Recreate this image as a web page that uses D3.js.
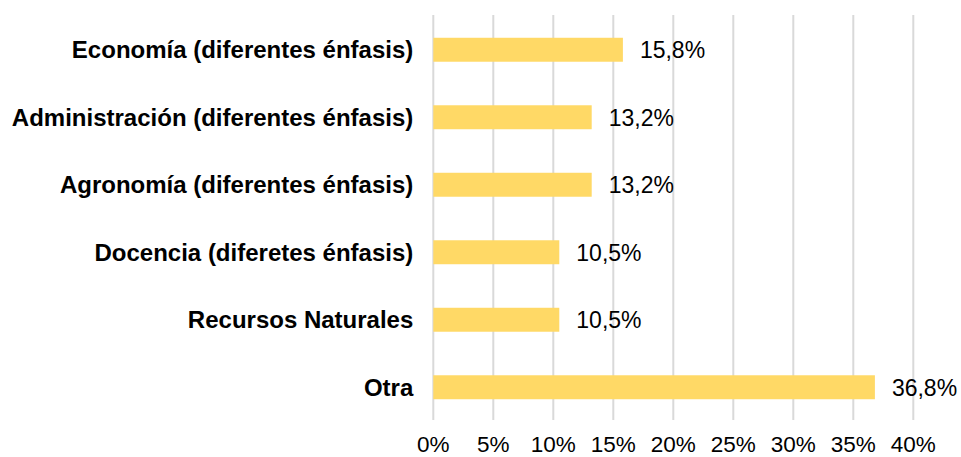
<!DOCTYPE html>
<html><head><meta charset="utf-8">
<script src="https://cdn.jsdelivr.net/npm/d3@7"></script>
<style>html,body{margin:0;padding:0;background:#fff;}svg{display:block;}</style>
</head><body>
<svg id="chart" width="961" height="457"></svg>
<script>
const categories = ["Economía (diferentes énfasis)","Administración (diferentes énfasis)","Agronomía (diferentes énfasis)","Docencia (diferetes énfasis)","Recursos Naturales","Otra"];
const values = [15.8,13.2,13.2,10.5,10.5,36.8];
const valueLabels = ["15,8%","13,2%","13,2%","10,5%","10,5%","36,8%"];
const tickValues = [0,5,10,15,20,25,30,35,40];
const tickLabels = ["0%","5%","10%","15%","20%","25%","30%","35%","40%"];

(function(){
const svg = d3.select("#chart");
const mLeft = 433.3, mRight = 913.3, mTop = 15, mBottom = 420;
const x = d3.scaleLinear().domain([0,40]).range([mLeft,mRight]);
const y = d3.scaleBand().domain(categories).range([mTop+1,mBottom+1]).paddingInner(0.645).paddingOuter(0.3225);

const font = "'Liberation Sans', Arial, sans-serif";

svg.append("g").selectAll("line").data(tickValues).join("line")
  .attr("x1",d=>x(d)).attr("x2",d=>x(d)).attr("y1",mTop).attr("y2",mBottom)
  .attr("stroke","#d9d9d9").attr("stroke-width",2);

svg.append("g").selectAll("rect").data(categories).join("rect")
  .attr("x",x(0)).attr("y",d=>y(d)).attr("height",y.bandwidth())
  .attr("width",(d,i)=>x(values[i])-x(0)).attr("fill","#FFD966");

svg.append("g").selectAll("text").data(categories).join("text")
  .attr("x",(d,i)=>x(values[i])+17).attr("y",d=>y(d)+y.bandwidth()/2)
  .attr("dy","0.36em").attr("font-family",font).attr("font-size",23).attr("fill","#000")
  .text((d,i)=>valueLabels[i]);

svg.append("g").selectAll("text").data(categories).join("text")
  .attr("x",mLeft-20).attr("y",d=>y(d)+y.bandwidth()/2)
  .attr("dy","0.36em").attr("text-anchor","end").attr("font-family",font)
  .attr("font-size",24).attr("font-weight","bold").attr("fill","#000")
  .text(d=>d);

svg.append("g").selectAll("text").data(tickValues).join("text")
  .attr("x",d=>x(d)).attr("y",452).attr("text-anchor","middle")
  .attr("font-family",font).attr("font-size",22.5).attr("fill","#000")
  .text((d,i)=>tickLabels[i]);
})();
</script>
</body></html>
